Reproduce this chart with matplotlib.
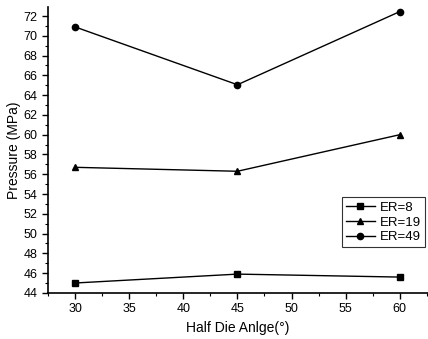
import matplotlib
matplotlib.use('Agg')
import matplotlib.pyplot as plt
from matplotlib.ticker import MultipleLocator

plt.rcParams['font.family'] = ['Liberation Sans', 'DejaVu Sans']

angles = [30, 45, 60]
er8 = [45.0, 45.9, 45.6]
er19 = [56.7, 56.3, 60.0]
er49 = [70.9, 65.05, 72.45]

fig = plt.figure(figsize=(4.28, 3.39), dpi=100)
ax = fig.add_axes([0.112, 0.136, 0.888, 0.843])

ax.plot(angles, er8, color='black', lw=1, marker='s', ms=4, label='ER=8')
ax.plot(angles, er19, color='black', lw=1, marker='^', ms=4.5, label='ER=19')
ax.plot(angles, er49, color='black', lw=1, marker='o', ms=4.5, label='ER=49')

ax.set_xlim(27.5, 62.6)
ax.set_ylim(44, 72.9)
ax.xaxis.set_major_locator(MultipleLocator(5))
ax.xaxis.set_minor_locator(MultipleLocator(2.5))
ax.yaxis.set_major_locator(MultipleLocator(2))
ax.yaxis.set_minor_locator(MultipleLocator(1))
ax.tick_params(which='major', direction='out', length=4, width=1, labelsize=9)
ax.tick_params(which='minor', direction='out', length=2.5, width=0.8)

for s in ['top', 'right']:
    ax.spines[s].set_visible(False)
for s in ['left', 'bottom']:
    ax.spines[s].set_linewidth(1.2)

ax.set_xlabel('Half Die Anlge(°)', fontsize=10)
ax.set_ylabel('Pressure (MPa)', fontsize=10, labelpad=2)

leg = ax.legend(loc='lower right', bbox_to_anchor=(1.0, 0.15), fontsize=9.5,
                frameon=True, fancybox=False, edgecolor='black',
                handlelength=2.2, borderpad=0.3, labelspacing=0.2,
                handletextpad=0.4, borderaxespad=0.2)
leg.get_frame().set_linewidth(0.8)

fig.savefig('out.png', dpi=100)
